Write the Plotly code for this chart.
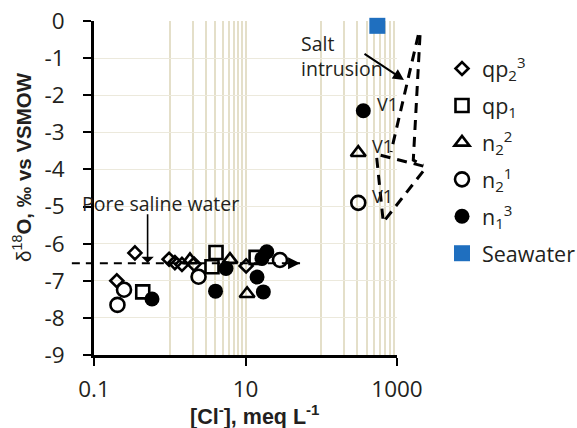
import math
import plotly.graph_objects as go

# ---- data: chloride (meq/L) vs delta-18O (permil VSMOW) ----
qp23_cl = [0.347, 0.20, 0.98, 1.17, 1.45, 2.09, 10.2]
qp23_d18o = [-6.25, -7.00, -6.42, -6.51, -6.56, -6.55, -6.60]

qp1_cl = [0.44, 3.61, 4.08, 13.8]
qp1_d18o = [-7.30, -6.62, -6.24, -6.37]

n22_cl = [1.85, 6.24, 10.5, 308]
n22_d18o = [-6.44, -6.43, -7.35, -3.55]

n21_cl = [0.249, 0.204, 2.40, 28.5, 308]
n21_d18o = [-7.24, -7.65, -6.89, -6.44, -4.90]

n13_cl = [0.583, 4.02, 5.53, 14.2, 16.5, 19.1, 17.2, 359]
n13_d18o = [-7.49, -7.28, -6.67, -6.90, -6.40, -6.22, -7.30, -2.42]

sea_cl = [550]
sea_d18o = [-0.13]

# samples labelled V1 (cl, d18o)
v1_cl = [359, 308, 308]
v1_d18o = [-2.42, -3.55, -4.90]

# salt-intrusion envelope (dashed polylines, None separates pieces)
env_cl = [1910, 834, None, 2013, 1641, 2225, None, 2225, 513, None,
          540, 659, 2271]
env_d18o = [-0.38, -3.53, None, -0.38, -3.75, -3.88, None, -3.91, -3.58, None,
            -3.69, -5.42, -4.02]

# pore saline water line
pore_cl = [0.051, 52.5]
pore_d18o = [-6.53, -6.53]

x_tickvals = [0.1, 10, 1000]
x_ticktext = ["0.1", "10", "1000"]
y_tickvals = [0, -1, -2, -3, -4, -5, -6, -7, -8, -9]
y_ticktext = ["0", "-1", "-2", "-3", "-4", "-5", "-6", "-7", "-8", "-9"]
x_gridvals = [1, 2, 3, 4, 5, 6, 7, 8, 9, 10,
              100, 200, 300, 400, 500, 600, 700, 800, 900, 1000]

# ---- layout geometry ----
W, H = 577, 428
ML, MR, MT, MB = 40, 2, 21, 73
PL, PR = 94, 397                      # plot-area edges in pixels
PW = W - ML - MR
PH = H - MT - MB
dom = [(PL - ML) / PW, (PR - ML) / PW]
xr = [-1, 3]
k = (xr[1] - xr[0]) / (dom[1] - dom[0])
xr2 = [xr[0] - dom[0] * k, xr[1] + (1 - dom[1]) * k]

FONT = "Open Sans"
TITLE_FONT = "Liberation Sans"
TEXT = "#231f20"
GRID_V = "#e4dfc9"
GRID_H = "#ece9dc"


def lg(v):
    # annotations on a log axis are placed in log10 units
    return math.log10(v)


fig = go.Figure()

open_line = dict(color="black", width=2.6)

fig.add_trace(go.Scatter(
    x=qp23_cl, y=qp23_d18o, mode="markers", name="qp<sub>2</sub><sup>3</sup>",
    marker=dict(symbol="diamond-open", size=10, line=open_line, color="black"),
    legendgroup="a", cliponaxis=False))
fig.add_trace(go.Scatter(
    x=qp1_cl, y=qp1_d18o, mode="markers", name="qp<sub>1</sub>",
    marker=dict(symbol="square-open", size=13, line=open_line, color="black"),
    legendgroup="b", cliponaxis=False))
fig.add_trace(go.Scatter(
    x=n22_cl, y=n22_d18o, mode="markers", name="n<sub>2</sub><sup>2</sup>",
    marker=dict(symbol="triangle-up-open", size=13, line=open_line, color="black"),
    legendgroup="c", cliponaxis=False))
fig.add_trace(go.Scatter(
    x=n21_cl, y=n21_d18o, mode="markers", name="n<sub>2</sub><sup>1</sup>",
    marker=dict(symbol="circle-open", size=14, line=open_line, color="black"),
    legendgroup="d", cliponaxis=False))
fig.add_trace(go.Scatter(
    x=n13_cl, y=n13_d18o, mode="markers", name="n<sub>1</sub><sup>3</sup>",
    marker=dict(symbol="circle", size=15, color="black"),
    legendgroup="e", cliponaxis=False))
fig.add_trace(go.Scatter(
    x=sea_cl, y=sea_d18o, mode="markers", name="Seawater",
    marker=dict(symbol="square", size=16, color="#1f6fbf"),
    legendgroup="f", cliponaxis=False))

# dashed guide lines on a wider, hidden overlay subplot
fig.add_trace(go.Scatter(
    x=env_cl, y=env_d18o, mode="lines", xaxis="x2", yaxis="y2",
    line=dict(color="black", width=3, dash="10px,7px"),
    showlegend=False, hoverinfo="skip"))
fig.add_trace(go.Scatter(
    x=pore_cl, y=pore_d18o, mode="lines", xaxis="x2", yaxis="y2",
    line=dict(color="black", width=2, dash="8px,6px"),
    showlegend=False, hoverinfo="skip"))

annotations = []
for cx, cy in zip(v1_cl, v1_d18o):
    annotations.append(dict(
        x=lg(cx), y=cy, xref="x2", yref="y2", text="V1", showarrow=False,
        xshift=24, yshift=7, font=dict(family=FONT, size=18, color=TEXT)))

# arrowhead on the pore saline water line
annotations.append(dict(
    x=lg(pore_cl[1]), y=pore_d18o[1], ax=lg(pore_cl[1]) - 0.12, ay=pore_d18o[1],
    xref="x2", yref="y2", axref="x2", ayref="y2", text="", showarrow=True,
    arrowhead=2, arrowsize=1.2, arrowwidth=2, arrowcolor="black"))
# vertical arrow under the label
annotations.append(dict(
    x=lg(0.51), y=-6.52, ax=lg(0.51), ay=-5.17,
    xref="x2", yref="y2", axref="x2", ayref="y2", text="", showarrow=True,
    arrowhead=1, arrowsize=1.3, arrowwidth=1.6, arrowcolor="black"))
annotations.append(dict(
    x=lg(0.0654), y=-4.93, xref="x2", yref="y2", text="Pore saline water",
    showarrow=False, xanchor="left", yanchor="middle",
    font=dict(family=FONT, size=19.5, color=TEXT)))

# salt intrusion label and arrow
annotations.append(dict(
    x=lg(1236), y=-1.59, ax=lg(356), ay=-0.86,
    xref="x2", yref="y2", axref="x2", ayref="y2", text="", showarrow=True,
    arrowhead=2, arrowsize=1.1, arrowwidth=2, arrowcolor="black"))
annotations.append(dict(
    x=lg(50.8), y=-0.94, xref="x2", yref="y2", text="Salt<br>intrusion",
    showarrow=False, xanchor="left", yanchor="middle", align="left",
    font=dict(family=FONT, size=19.5, color=TEXT)))

# axis titles
annotations.append(dict(
    x=(22 - ML) / PW, y=(H - MB - 167) / PH, xref="paper", yref="paper",
    text="δ<sup>18</sup><b>O, ‰ vs VSMOW</b>", textangle=-90, showarrow=False,
    xanchor="center", yanchor="middle",
    font=dict(family=TITLE_FONT, size=20.5, color=TEXT)))
annotations.append(dict(
    x=(255 - ML) / PW, y=(H - MB - 415) / PH, xref="paper", yref="paper",
    text="<b>[Cl<sup>-</sup>], meq L<sup>-1</sup></b>", showarrow=False,
    xanchor="center", yanchor="middle",
    font=dict(family=TITLE_FONT, size=21.5, color=TEXT)))

fig.update_layout(
    width=W, height=H,
    margin=dict(l=ML, r=MR, t=MT, b=MB, autoexpand=False),
    paper_bgcolor="white", plot_bgcolor="rgba(0,0,0,0)",
    font=dict(family=FONT, size=22, color=TEXT),
    showlegend=True,
    legend=dict(x=(442 - ML) / PW, y=(H - MB - 48) / PH,
                xanchor="left", yanchor="top",
                traceorder="grouped", tracegroupgap=6,
                font=dict(family=FONT, size=21.5, color=TEXT),
                bgcolor="rgba(0,0,0,0)", itemwidth=30),
    xaxis=dict(
        type="log", range=xr, domain=dom, anchor="y",
        tickmode="array", tickvals=x_tickvals, ticktext=x_ticktext,
        ticks="outside", ticklen=8, tickwidth=2, tickcolor="black",
        ticklabelstandoff=4,
        showline=True, linecolor="black", linewidth=3,
        showgrid=False, zeroline=False,
        minor=dict(tickmode="array", tickvals=x_gridvals, showgrid=True,
                   gridcolor=GRID_V, gridwidth=1.6, ticks=""),
        tickfont=dict(family=FONT, size=22.5, color=TEXT)),
    yaxis=dict(
        range=[-9, 0], domain=[0, 1], anchor="x",
        tickmode="array", tickvals=y_tickvals, ticktext=y_ticktext,
        ticks="outside", ticklen=8, tickwidth=2, tickcolor="black",
        ticklabelstandoff=14,
        showline=True, linecolor="black", linewidth=3,
        showgrid=True, gridcolor=GRID_H, gridwidth=1.3, zeroline=False,
        tickfont=dict(family=FONT, size=22.5, color=TEXT)),
    xaxis2=dict(type="log", range=xr2, domain=[0, 1], anchor="y2",
                visible=False),
    yaxis2=dict(range=[-9, 0], domain=[0, 1], anchor="x2", visible=False),
    annotations=annotations,
)

fig.write_html("out.html")
